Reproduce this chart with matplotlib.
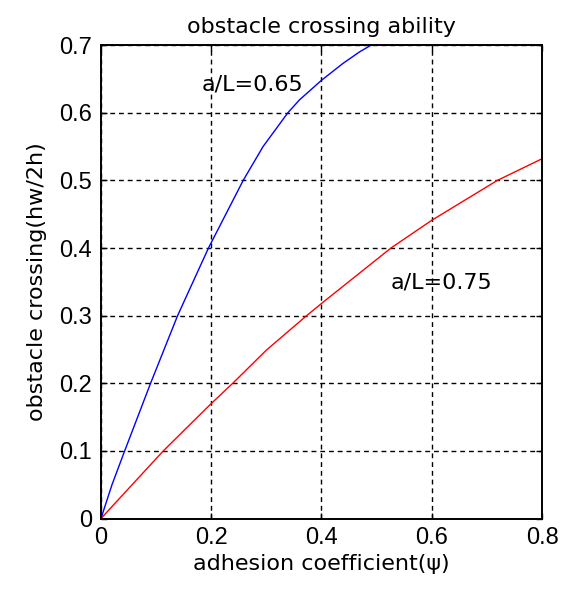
import matplotlib
matplotlib.use("Agg")
import matplotlib.pyplot as plt
from matplotlib.ticker import FormatStrFormatter

# ---- data ----
# a/L = 0.65 (blue)
blue_x = [0, 0.02, 0.043, 0.09, 0.139, 0.195, 0.258, 0.294, 0.339, 0.36, 0.4,
          0.439, 0.469, 0.49, 0.55]
blue_y = [0, 0.05, 0.1, 0.2, 0.3, 0.4, 0.5, 0.55, 0.6, 0.619, 0.648,
          0.673, 0.69, 0.7, 0.725]

# a/L = 0.75 (red)
red_x = [0, 0.113, 0.2, 0.239, 0.3, 0.373, 0.4, 0.526, 0.6, 0.719, 0.8]
red_y = [0, 0.1, 0.17, 0.2, 0.249, 0.3, 0.318, 0.4, 0.441, 0.5, 0.532]

x_ticks = [0, 0.2, 0.4, 0.6, 0.8]
y_ticks = [0, 0.1, 0.2, 0.3, 0.4, 0.5, 0.6, 0.7]

plt.rcParams['font.family'] = ['DejaVu Sans']

fig = plt.figure(figsize=(5.64, 5.94), dpi=100)
ax = fig.add_axes([0.179, 0.127, 0.782, 0.797])

ax.plot(blue_x, blue_y, color='#0000ff', linewidth=1.0)
ax.plot(red_x, red_y, color='#ff0000', linewidth=1.0)

ax.set_xlim(0, 0.8)
ax.set_ylim(0, 0.7)
ax.set_xticks(x_ticks)
ax.set_yticks(y_ticks)
ax.xaxis.set_major_formatter(FormatStrFormatter('%g'))
ax.yaxis.set_major_formatter(FormatStrFormatter('%g'))

ax.grid(True, color='black', linestyle=(0, (3.5, 2.8)), linewidth=1.0)
ax.tick_params(direction='in', length=4, width=1, colors='black',
               top=True, right=True)
ax.tick_params(axis='x', pad=6)
ax.tick_params(axis='y', pad=6.5)
for lab in ax.get_xticklabels() + ax.get_yticklabels():
    lab.set_family(['Liberation Sans', 'DejaVu Sans'])
    lab.set_fontsize(17)
for sp in ax.spines.values():
    sp.set_linewidth(1.4)

ax.text(0.183, 0.642, 'a/L=0.65', fontsize=16, va='center', ha='left')
ax.text(0.525, 0.349, 'a/L=0.75', fontsize=16, va='center', ha='left')

ax.set_title('obstacle crossing ability', fontsize=16, pad=8.5)
ax.set_xlabel('adhesion coefficient(ψ)', fontsize=16, labelpad=4)
ax.set_ylabel('obstacle crossing(hw/2h)', fontsize=16, labelpad=9)

fig.savefig('out.png', dpi=100)
